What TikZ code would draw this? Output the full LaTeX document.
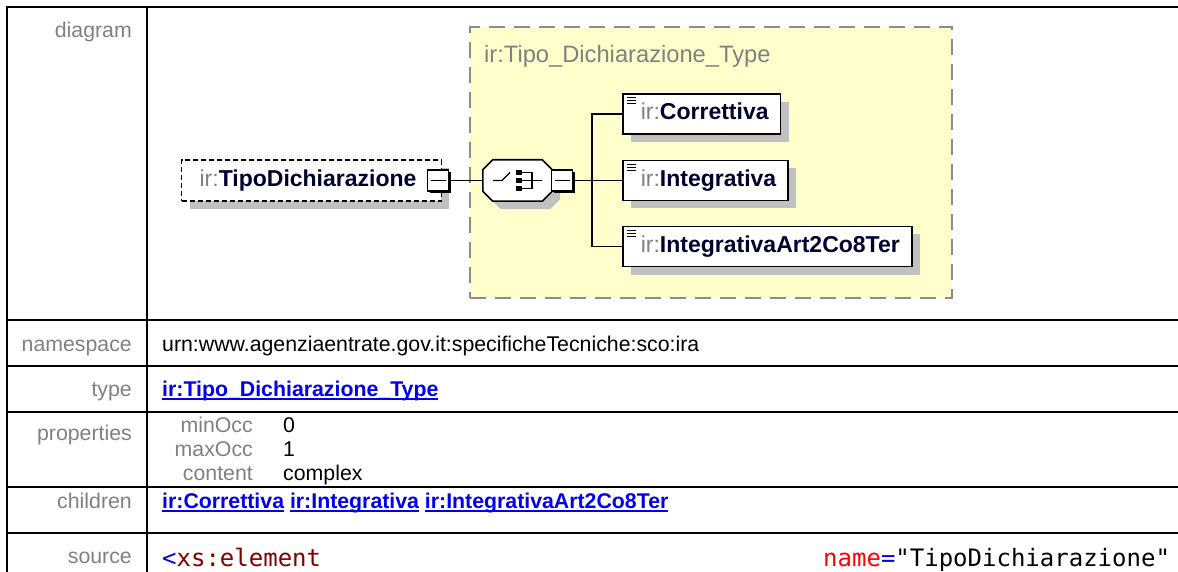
\documentclass[tikz,border=0pt]{standalone}
\usepackage{fontspec}
\setmainfont{Liberation Sans}
\setmonofont{DejaVu Sans Mono}
\usetikzlibrary{arrows.meta, positioning, calc, shadows}

\definecolor{lblgray}{RGB}{128,128,128}
\definecolor{linkblue}{RGB}{0,0,238}
\definecolor{typeyellow}{RGB}{255,255,204}
\definecolor{typeborder}{RGB}{140,140,140}
\definecolor{shadegray}{RGB}{192,192,192}
\definecolor{namenavy}{RGB}{0,0,48}
\definecolor{tagred}{RGB}{128,0,0}
\definecolor{attrred}{RGB}{255,0,0}

\newcommand{\irp}{\textcolor{lblgray}{ir:}}
\newcommand{\ulink}[1]{\setbox0\hbox{#1}\rlap{\rule[-3.5pt]{\wd0}{1.4pt}}\box0\relax}

\begin{document}
\begin{tikzpicture}[
    x=1pt, y=-1pt,
    tbl/.style={line width=2.2pt},
    lbl/.style={anchor=base east, inner sep=0pt, text=lblgray,
        font=\fontsize{21.3}{25}\selectfont},
    val/.style={anchor=base west, inner sep=0pt,
        font=\fontsize{21.3}{25}\selectfont},
    link/.style={val, text=linkblue, font=\fontsize{21.3}{25}\selectfont\bfseries},
    src/.style={anchor=base west, inner sep=0pt, font=\fontsize{24}{28}\selectfont\ttfamily},
    shade/.style={drop shadow={shadow xshift=8pt, shadow yshift=-8pt,
        fill=shadegray, opacity=1}},
    elem/.style={draw, dashed, dash pattern=on 5pt off 3pt, line width=1.2pt,
        fill=white, shade, anchor=west, minimum height=41pt, inner xsep=0pt,
        text height=17pt, text depth=5pt, font=\fontsize{23}{27}\selectfont},
    child/.style={draw, line width=1.6pt, fill=white, shade, anchor=west,
        minimum height=40pt, inner xsep=0pt,
        text height=17pt, text depth=5pt, font=\fontsize{23}{27}\selectfont,
        path picture={\foreach \k in {0,1,2}
            \draw[line width=1pt] ([xshift=4pt, yshift={-4pt-3pt*\k}]path picture bounding box.north west) -- ++(9pt,0);}},
    toggle/.style={draw, fill=white, minimum size=21pt, inner sep=0pt, line width=1.5pt,
        drop shadow={shadow xshift=2.5pt, shadow yshift=-2.5pt, fill=black, opacity=1},
        path picture={\draw[line width=1.5pt] ([xshift=3pt]path picture bounding box.west)
            -- ([xshift=-3pt]path picture bounding box.east);}},
    wire/.style={line width=1.6pt}
]
\useasboundingbox (0,0) rectangle (1178,572);

% table frame
\draw[tbl] (1178,7) -- (7,7) -- (7,580);
\draw[tbl] (147,7) -- (147,580);
\foreach \ry in {320,366,412,487,533}
    \draw[tbl] (7,\ry) -- (1178,\ry);

% row labels
\node[lbl] (lbldiagram) at (132,38) {diagram};
\node[lbl] (lblns) at (132,351) {namespace};
\node[lbl] (lbltype) at (132,396) {type};
\node[lbl] (lblprops) at (132,440) {properties};
\node[lbl] (lblchildren) at (132,508) {children};
\node[lbl] (lblsource) at (132,563) {source};

% row values
\node[val] (nsval) at (162,351) {urn:www.agenziaentrate.gov.it:specificheTecniche:sco:ira};
\node[link] (typeval) at (162,396) {\ulink{ir:Tipo\_Dichiarazione\_Type}};
\node[lbl] (minlbl) at (253,432) {minOcc};
\node[lbl] (maxlbl) at (253,456) {maxOcc};
\node[lbl] (contlbl) at (253,480) {content};
\node[val] (minval) at (283,432) {0};
\node[val] (maxval) at (283,456) {1};
\node[val] (contval) at (283,480) {complex};
\node[link] (childlinks) at (162,508) {\ulink{ir:Correttiva} \ulink{ir:Integrativa} \ulink{ir:IntegrativaArt2Co8Ter}};
\node[src] (srcopen) at (162,566) {\textcolor{linkblue}{<}\textcolor{tagred}{xs:element}};
\node[src] (srcattr) at (823,566) {\textcolor{attrred}{name}\textcolor{linkblue}{=}"TipoDichiarazione"};

% complex type box
\node[draw=typeborder, dashed, dash pattern=on 16pt off 9pt, line width=1.5pt,
    fill=typeyellow, minimum width=482pt, minimum height=271pt] (typebox) at (711,162.5) {};
\node[anchor=base west, inner sep=0pt, text=lblgray, font=\fontsize{23.7}{28}\selectfont]
    (typelbl) at (484,63) {ir:Tipo\_Dichiarazione\_Type};

% element and choice
\node[elem] (tipodich) at (181,180.5)
    {\hspace*{18pt}\irp\textcolor{namenavy}{\bfseries TipoDichiarazione}\hspace*{25pt}};
\node[toggle] (eltog) at (438,180.5) {};
\node[minimum width=69pt, minimum height=41pt, inner sep=0pt] (choice) at (517.5,180.5) {};
\draw[fill=white, line width=1.6pt, shade]
    ($(choice.north west)+(10,0)$) -- ($(choice.north east)+(-10,0)$)
    -- ($(choice.north east)+(0,10)$) -- ($(choice.south east)+(0,-10)$)
    -- ($(choice.south east)+(-10,0)$) -- ($(choice.south west)+(10,0)$)
    -- ($(choice.south west)+(0,-10)$) -- ($(choice.north west)+(0,10)$) -- cycle;
\begin{scope}[shift={(choice.center)}, line width=1.4pt]
    \draw (-24.5,0) -- (-15.5,0) -- (-7.5,-8);
    \foreach \sy in {-8,0,8}
        \fill (-1.5,\sy-2.7) rectangle (4,\sy+2.7);
    \draw (4,-8) -- (14.5,-8) -- (14.5,8) -- (4,8);
    \draw (4,0) -- (24.5,0);
\end{scope}
\node[toggle] (chtog) at (562,180.5) {};
\coordinate (trunk) at (592,180.5);

% children
\node[child] (corr) at (622,114)
    {\hspace*{18pt}\irp\textcolor{namenavy}{\bfseries Correttiva}\hspace*{12pt}};
\node[child] (integ) at (622,180.5)
    {\hspace*{18pt}\irp\textcolor{namenavy}{\bfseries Integrativa}\hspace*{12pt}};
\node[child] (art) at (622,246.5)
    {\hspace*{18pt}\irp\textcolor{namenavy}{\bfseries IntegrativaArt2Co8Ter}\hspace*{12pt}};

% connectors
\draw[wire] (eltog.east) -- (choice.west);
\draw[wire] (chtog.east) -- (trunk);
\draw[wire] (corr.west) -| (trunk) |- (art.west);
\draw[wire] (trunk) -- (integ.west);

\end{tikzpicture}
\end{document}
